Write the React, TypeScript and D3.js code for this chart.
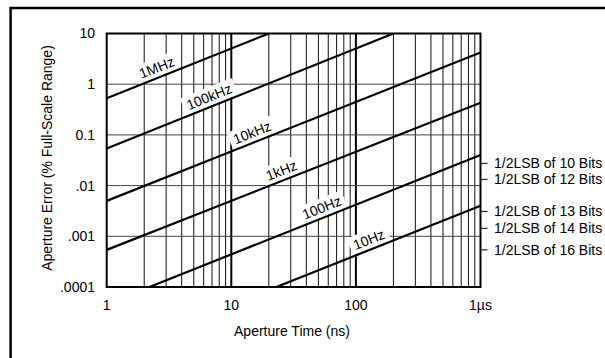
import React, { useEffect, useRef } from "react";
import * as d3 from "d3";

// aperture error lines (start / end points at the plot edges)
const freqLabels = ["1MHz", "100kHz", "10kHz", "1kHz", "100Hz", "10Hz"];
const startTimes = [1, 1, 1, 1, 2.2, 23];
const startErrors = [0.53, 0.054, 0.005, 0.00054, 0.0001, 0.0001];
const endTimes = [20, 200, 1000, 1000, 1000, 1000];
const endErrors = [10, 10, 4.2, 0.43, 0.04, 0.004];
const labelTimes = [2.7, 7.1, 15.7, 27, 57, 136];

const lsbLabels = [
  "1/2LSB of 10 Bits",
  "1/2LSB of 12 Bits",
  "1/2LSB of 13 Bits",
  "1/2LSB of 14 Bits",
  "1/2LSB of 16 Bits",
];
const lsbErrors = [0.0275, 0.0133, 0.0031, 0.00144, 0.00054];

const xTicks = [1, 10, 100, 1000];
const xTickLabels = ["1", "10", "100", "1µs"];
const yTicks = [10, 1, 0.1, 0.01, 0.001, 0.0001];
const yTickLabels = ["10", "1", "0.1", ".01", ".001", ".0001"];

const W = 605;
const H = 358;
const FONT = "'Liberation Sans', Arial, sans-serif";

const App = () => {
  const svgRef = useRef<SVGSVGElement>(null);

  useEffect(() => {
    const x = d3.scaleLog().domain([1, 1000]).range([106.7, 480.5]);
    const y = d3.scaleLog().domain([0.0001, 10]).range([287, 33.5]);

    const svg = d3.select(svgRef.current);
    svg.selectAll("*").remove();

    // outer frame (runs off the right and bottom)
    svg
      .append("rect")
      .attr("x", 10.6)
      .attr("y", 8)
      .attr("width", 700)
      .attr("height", 500)
      .attr("fill", "none")
      .attr("stroke", "#000")
      .attr("stroke-width", 2.5);

    svg
      .append("defs")
      .append("clipPath")
      .attr("id", "plot")
      .append("rect")
      .attr("x", x(1))
      .attr("y", y(10))
      .attr("width", x(1000) - x(1))
      .attr("height", y(0.0001) - y(10));

    // grid
    const minor: number[] = [];
    for (const dec of [1, 10, 100]) {
      for (let k = 2; k <= 9; k++) minor.push(k * dec);
    }
    const grid = svg.append("g").attr("fill", "none");
    grid
      .selectAll("line.v")
      .data(minor)
      .join("line")
      .attr("x1", (d) => x(d))
      .attr("x2", (d) => x(d))
      .attr("y1", y(10))
      .attr("y2", y(0.0001))
      .attr("stroke", "#111")
      .attr("stroke-width", 1);
    grid
      .selectAll("line.vm")
      .data([10, 100])
      .join("line")
      .attr("x1", (d) => x(d))
      .attr("x2", (d) => x(d))
      .attr("y1", y(10))
      .attr("y2", y(0.0001))
      .attr("stroke", "#000")
      .attr("stroke-width", 2);
    grid
      .selectAll("line.h")
      .data([1, 0.1, 0.01, 0.001])
      .join("line")
      .attr("x1", x(1))
      .attr("x2", x(1000))
      .attr("y1", (d) => y(d))
      .attr("y2", (d) => y(d))
      .attr("stroke", "#444")
      .attr("stroke-width", 1);

    // line labels with white backing
    const labels = svg.append("g").attr("clip-path", "url(#plot)");
    freqLabels.forEach((name, i) => {
      const x0 = x(startTimes[i]);
      const y0 = y(startErrors[i]);
      const x1 = x(endTimes[i]);
      const y1 = y(endErrors[i]);
      const ang = (Math.atan2(y1 - y0, x1 - x0) * 180) / Math.PI;
      const lx = x(labelTimes[i]);
      const ly = y0 + ((lx - x0) / (x1 - x0)) * (y1 - y0);
      const g = labels
        .append("g")
        .attr("transform", `translate(${lx},${ly}) rotate(${ang})`);
      const t = g
        .append("text")
        .attr("y", -5)
        .attr("text-anchor", "middle")
        .attr("font-family", FONT)
        .attr("font-size", 14)
        .attr("fill", "#000")
        .text(name);
      const b = (t.node() as SVGTextElement).getBBox();
      g.insert("rect", "text")
        .attr("x", b.x - 4)
        .attr("y", b.y - 1)
        .attr("width", b.width + 8)
        .attr("height", b.height + 2)
        .attr("fill", "#fff");
    });

    // aperture error lines
    svg
      .append("g")
      .attr("clip-path", "url(#plot)")
      .selectAll("line")
      .data(freqLabels)
      .join("line")
      .attr("x1", (_, i) => x(startTimes[i]))
      .attr("y1", (_, i) => y(startErrors[i]))
      .attr("x2", (_, i) => x(endTimes[i]))
      .attr("y2", (_, i) => y(endErrors[i]))
      .attr("stroke", "#000")
      .attr("stroke-width", 2.2);

    // plot frame
    svg
      .append("rect")
      .attr("x", x(1))
      .attr("y", y(10))
      .attr("width", x(1000) - x(1))
      .attr("height", y(0.0001) - y(10))
      .attr("fill", "none")
      .attr("stroke", "#000")
      .attr("stroke-width", 2);

    const text = svg
      .append("g")
      .attr("font-family", FONT)
      .attr("font-size", 14)
      .attr("fill", "#000");

    text
      .selectAll("text.x")
      .data(xTicks)
      .join("text")
      .attr("x", (d) => x(d))
      .attr("y", 310)
      .attr("text-anchor", "middle")
      .text((_, i) => xTickLabels[i]);

    text
      .selectAll("text.y")
      .data(yTicks)
      .join("text")
      .attr("x", 95)
      .attr("y", (d) => y(d))
      .attr("dy", "0.35em")
      .attr("text-anchor", "end")
      .text((_, i) => yTickLabels[i]);

    // right side LSB markers
    svg
      .append("g")
      .selectAll("line")
      .data(lsbErrors)
      .join("line")
      .attr("x1", x(1000) + 1)
      .attr("x2", x(1000) + 7)
      .attr("y1", (d) => y(d))
      .attr("y2", (d) => y(d))
      .attr("stroke", "#000")
      .attr("stroke-width", 1);
    text
      .selectAll("text.lsb")
      .data(lsbErrors)
      .join("text")
      .attr("x", 494)
      .attr("y", (d) => y(d))
      .attr("dy", "0.35em")
      .text((_, i) => lsbLabels[i]);

    text
      .append("text")
      .attr("x", 292)
      .attr("y", 335.5)
      .attr("text-anchor", "middle")
      .text("Aperture Time (ns)");

    text
      .append("text")
      .attr("transform", "translate(52,158) rotate(-90)")
      .attr("text-anchor", "middle")
      .text("Aperture Error (% Full-Scale Range)");
  }, []);

  return (
    <div style={{ position: "absolute", left: 0, top: 0 }}>
      <svg
        ref={svgRef}
        width={W}
        height={H}
        style={{ display: "block", background: "#fff" }}
      />
    </div>
  );
};

export default App;
